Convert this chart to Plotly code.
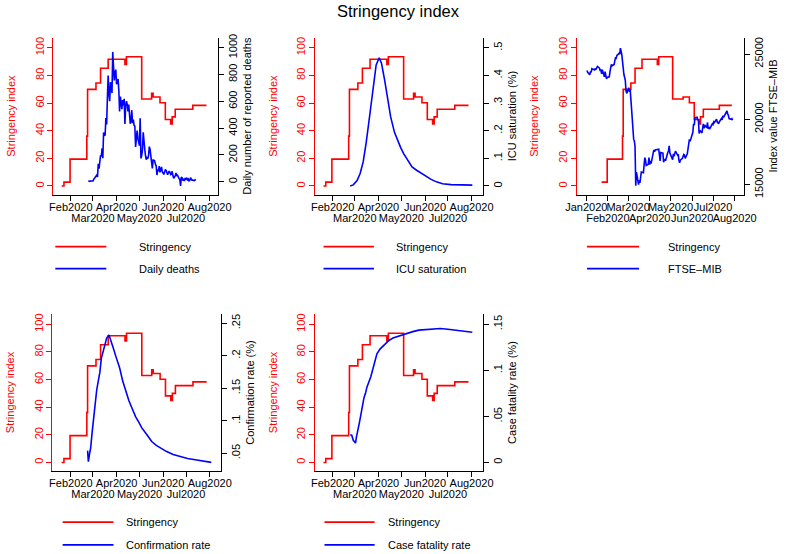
import pandas as pd
import plotly.graph_objects as go

W, H = 791, 554
FONT = "Liberation Sans, Arial, Helvetica, sans-serif"
RED = "#ff0000"
BLUE = "#0000ff"

# ---------------- data ----------------
# Stringency index (change points, step series)
str_dates = ["2020-01-20", "2020-01-23", "2020-01-31", "2020-02-22", "2020-02-23",
             "2020-03-05", "2020-03-11", "2020-03-21", "2020-04-12", "2020-04-14",
             "2020-05-04", "2020-05-17", "2020-05-19", "2020-05-28", "2020-06-04",
             "2020-06-11", "2020-06-13", "2020-06-17", "2020-07-10", "2020-07-28"]
str_vals = [0, 2.78, 19.44, 36.11, 69.91,
            74.54, 85.19, 91.67, 87.96, 93.52,
            62.96, 67.13, 64.35, 60.19, 48.15,
            44.91, 50.0, 55.56, 58.33, 58.33]
# points absent from the FTSE-MIB panel (non-trading days)
ftse_missing_str = ["2020-01-20", "2020-05-17"]

# Daily number of reported deaths, daily from 24 Feb 2020
deaths_start = "2020-02-24"
deaths = [7, 3, 2, 5, 4, 8,
          5, 18, 27, 28, 41, 49, 36, 133, 97, 168, 196, 189, 250, 175, 368, 349,
          345, 475, 427, 627, 793, 651, 601, 743, 683, 662, 969, 889, 756, 812, 837,
          727, 760, 766, 681, 525, 636, 604, 542, 610, 570, 619, 431, 566, 602, 578,
          525, 575, 482, 433, 454, 534, 437, 464, 420, 415, 260, 333, 382, 323, 285,
          269, 474, 174, 195, 236, 369, 274, 243, 194, 165, 179, 172, 195, 262, 242,
          153, 145, 99, 162, 161, 156, 130, 119, 50, 92, 78, 117, 70, 87, 111, 75,
          60, 55, 71, 88, 85, 72, 53, 65, 79, 71, 53, 56, 78, 44, 26, 34, 43, 66,
          47, 49, 24, 23, 18, -31, 34, 30, 8, 22, 6, 23,
          21, 30, 15, 21, 7, 8, 30, 15, 12, 12, 7, 9, 13, 17]

# ICU saturation (%)
icu_dates = ["2020-02-24", "2020-02-28", "2020-03-04", "2020-03-08", "2020-03-12",
             "2020-03-16", "2020-03-21", "2020-03-25", "2020-03-29", "2020-04-02",
             "2020-04-05", "2020-04-09", "2020-04-13", "2020-04-17", "2020-04-22",
             "2020-04-26", "2020-04-30", "2020-05-04", "2020-05-08", "2020-05-15",
             "2020-05-21", "2020-05-28", "2020-06-03", "2020-06-09", "2020-06-16",
             "2020-06-24", "2020-07-05", "2020-07-17", "2020-08-02"]
icu_vals = [0.0, 0.004, 0.02, 0.045, 0.087,
            0.158, 0.265, 0.362, 0.438, 0.464,
            0.444, 0.385, 0.313, 0.25, 0.194,
            0.165, 0.14, 0.117, 0.1, 0.069,
            0.057, 0.045, 0.033, 0.024, 0.015,
            0.008, 0.005, 0.004, 0.003]

# FTSE-MIB index value
ftse_dates = ["2020-01-02", "2020-01-03", "2020-01-06", "2020-01-07", "2020-01-08", "2020-01-09",
              "2020-01-10", "2020-01-13", "2020-01-14", "2020-01-15", "2020-01-16", "2020-01-17",
              "2020-01-20", "2020-01-21", "2020-01-22", "2020-01-23", "2020-01-24", "2020-01-27",
              "2020-01-28", "2020-01-29", "2020-01-30", "2020-01-31", "2020-02-03", "2020-02-04",
              "2020-02-05", "2020-02-06", "2020-02-07", "2020-02-10", "2020-02-11", "2020-02-12",
              "2020-02-13", "2020-02-14", "2020-02-17", "2020-02-18", "2020-02-19", "2020-02-20",
              "2020-02-21", "2020-02-24", "2020-02-25", "2020-02-26", "2020-02-27", "2020-02-28",
              "2020-03-02", "2020-03-03", "2020-03-04", "2020-03-05", "2020-03-06", "2020-03-09",
              "2020-03-10", "2020-03-11", "2020-03-12", "2020-03-13", "2020-03-16", "2020-03-17",
              "2020-03-18", "2020-03-19", "2020-03-20", "2020-03-23", "2020-03-24", "2020-03-25",
              "2020-03-26", "2020-03-27", "2020-03-30", "2020-03-31", "2020-04-01", "2020-04-02",
              "2020-04-03", "2020-04-06", "2020-04-07", "2020-04-08", "2020-04-09", "2020-04-14",
              "2020-04-15", "2020-04-16", "2020-04-17", "2020-04-20", "2020-04-21", "2020-04-22",
              "2020-04-23", "2020-04-24", "2020-04-27", "2020-04-28", "2020-04-29", "2020-04-30",
              "2020-05-04", "2020-05-05", "2020-05-06", "2020-05-07", "2020-05-08", "2020-05-11",
              "2020-05-12", "2020-05-13", "2020-05-14", "2020-05-15", "2020-05-18", "2020-05-19",
              "2020-05-20", "2020-05-21", "2020-05-22", "2020-05-25", "2020-05-26", "2020-05-27",
              "2020-05-28", "2020-05-29", "2020-06-01", "2020-06-02", "2020-06-03", "2020-06-04",
              "2020-06-05", "2020-06-08", "2020-06-09", "2020-06-10", "2020-06-11", "2020-06-12",
              "2020-06-15", "2020-06-16", "2020-06-17", "2020-06-18", "2020-06-19", "2020-06-22",
              "2020-06-23", "2020-06-24", "2020-06-25", "2020-06-26", "2020-06-29", "2020-06-30",
              "2020-07-01", "2020-07-02", "2020-07-03", "2020-07-06", "2020-07-07", "2020-07-08",
              "2020-07-09", "2020-07-10", "2020-07-13", "2020-07-14", "2020-07-15", "2020-07-16",
              "2020-07-17", "2020-07-20", "2020-07-21", "2020-07-22", "2020-07-23", "2020-07-24",
              "2020-07-27", "2020-07-28", "2020-07-29"]
ftse_vals = [23740, 23600, 23410, 23650, 23600, 23880,
             23850, 23780, 23900, 23820, 23950, 24050,
             23920, 23700, 23820, 23480, 23800, 23250,
             23650, 23450, 23100, 23200, 23250, 23650,
             24000, 24200, 24100, 24200, 24500, 24750,
             24700, 24900, 25050, 25000, 25450, 25150,
             24950, 23430, 23200, 23000, 22200, 21980,
             22420, 22100, 22300, 21750, 20800, 18470,
             18330, 17900, 14890, 15950, 14980, 15300,
             15120, 15550, 15950, 15900, 16800, 17050,
             16900, 16450, 16550, 17050, 16520, 16800,
             16600, 17300, 17650, 17500, 17650, 17700,
             16950, 16800, 17450, 17400, 16700, 16900,
             16850, 16850, 17450, 17550, 17950, 17400,
             16900, 17350, 17150, 17350, 17550, 17250,
             17300, 16850, 16650, 16850, 17000, 17150,
             17300, 17250, 17000, 17350, 17650, 18000,
             18450, 18300, 18800, 19000, 19650, 19550,
             20100, 20150, 19950, 19900, 18900, 19150,
             18950, 19500, 19650, 19300, 19550, 19350,
             19750, 19250, 19400, 19250, 19500, 19650,
             19600, 19800, 19750, 20000, 19800, 19700,
             19650, 19800, 20050, 19950, 20250, 20150,
             20250, 20450, 20630, 20400, 20300, 20050,
             20000, 20050, 19920]

# Confirmation rate (%)
conf_dates = ["2020-02-23", "2020-02-24", "2020-02-26", "2020-02-27", "2020-02-29",
              "2020-03-03", "2020-03-06", "2020-03-09", "2020-03-10", "2020-03-12",
              "2020-03-16", "2020-03-19", "2020-03-22", "2020-03-23", "2020-03-27",
              "2020-03-31", "2020-04-05", "2020-04-09", "2020-04-13", "2020-04-17",
              "2020-04-22", "2020-04-26", "2020-04-30", "2020-05-04", "2020-05-11",
              "2020-05-17", "2020-05-23", "2020-05-30", "2020-06-05", "2020-06-14",
              "2020-06-22", "2020-07-03", "2020-07-13", "2020-07-24", "2020-08-03"]
conf_vals = [0.054, 0.037, 0.052, 0.058, 0.083,
             0.118, 0.148, 0.168, 0.174, 0.196,
             0.214, 0.227, 0.232, 0.229, 0.214,
             0.199, 0.181, 0.161, 0.146, 0.131,
             0.117, 0.106, 0.098, 0.089, 0.078,
             0.068, 0.062, 0.057, 0.053, 0.048,
             0.045, 0.042, 0.040, 0.038, 0.036]

# Case fatality rate (%)
cfr_dates = ["2020-02-24", "2020-02-26", "2020-02-28", "2020-03-02", "2020-03-03",
             "2020-03-05", "2020-03-07", "2020-03-09", "2020-03-11", "2020-03-13",
             "2020-03-15", "2020-03-17", "2020-03-22", "2020-03-26", "2020-03-30",
             "2020-04-03", "2020-04-08", "2020-04-14", "2020-04-20", "2020-04-29",
             "2020-05-07", "2020-05-16", "2020-05-24", "2020-06-02", "2020-06-10",
             "2020-06-21", "2020-07-01", "2020-07-14", "2020-07-27", "2020-08-02"]
cfr_vals = [0.030, 0.0296, 0.024, 0.021, 0.027,
            0.0375, 0.043, 0.052, 0.064, 0.070,
            0.075, 0.082, 0.093, 0.107, 0.118,
            0.123, 0.127, 0.132, 0.135, 0.1375,
            0.140, 0.142, 0.1436, 0.1443, 0.1446,
            0.1454, 0.1446, 0.1436, 0.1425, 0.1414]

months_a = ["2020-02-01", "2020-03-01", "2020-04-01", "2020-05-01",
            "2020-06-01", "2020-07-01", "2020-08-01"]
months_b = ["2020-01-01"] + months_a


def mlabel(d):
    return pd.Timestamp(d).strftime("%b%Y")


# ---------------- layout geometry (pixels) ----------------
def px_x(v):
    return v / W


def px_y(v):
    return 1 - v / H


BASE = pd.Timestamp("2020-01-01")


def day(d):
    return (BASE + pd.Timedelta(days=d)).strftime("%Y-%m-%d %H:%M")


deaths_dates = pd.date_range(deaths_start, periods=len(deaths)).strftime("%Y-%m-%d").tolist()
str3 = [(d, v) for d, v in zip(str_dates, str_vals) if d not in ftse_missing_str]

panels = [
    dict(x=(43.3, 213.3), row=0, xr=(7.6, 223.9), months=months_a,
         s_x=str_dates, s_y=str_vals, b_x=deaths_dates, b_y=deaths,
         r_range=(-95.8, 1075.9), r_ticks=[0, 200, 400, 600, 800, 1000],
         r_text=["0", "200", "400", "600", "800", "1000"],
         r_title="Daily number of reported deaths", leg="Daily deaths",
         leg_x=(45.7, 98.3, 130)),
    dict(x=(313.3, 486.7), row=0, xr=(7.6, 227.9), months=months_a,
         s_x=str_dates, s_y=str_vals, b_x=icu_dates, b_y=icu_vals,
         r_range=(-0.031, 0.537), r_ticks=[0, 0.1, 0.2, 0.3, 0.4, 0.5],
         r_text=["0", ".1", ".2", ".3", ".4", ".5"],
         r_title="ICU saturation (%)", leg="ICU saturation",
         leg_x=(322.3, 374.3, 395)),
    dict(x=(583.3, 756), row=0, xr=(-13.9, 226.5), months=months_b,
         s_x=[d for d, v in str3], s_y=[v for d, v in str3], b_x=ftse_dates, b_y=ftse_vals,
         r_range=(14220, 26265), r_ticks=[15000, 20000, 25000],
         r_text=["15000", "20000", "25000"],
         r_title="Index value FTSE\u2013MIB", leg="FTSE\u2013MIB",
         leg_x=(594, 647.7, 675.7)),
    dict(x=(42.7, 216.7), row=1, xr=(6.9, 227.9), months=months_a,
         s_x=str_dates, s_y=str_vals, b_x=conf_dates, b_y=conf_vals,
         r_range=(0.0227, 0.2641), r_ticks=[0.05, 0.1, 0.15, 0.2, 0.25],
         r_text=[".05", ".1", ".15", ".2", ".25"],
         r_title="Confirmation rate (%)", leg="Confirmation rate",
         leg_x=(53.3, 105.7, 116.7)),
    dict(x=(313.3, 486.7), row=1, xr=(7.6, 227.9), months=months_a,
         s_x=str_dates, s_y=str_vals, b_x=cfr_dates, b_y=cfr_vals,
         r_range=(-0.0093, 0.1611), r_ticks=[0, 0.05, 0.1, 0.15],
         r_text=["0", ".05", ".1", ".15"],
         r_title="Case fatality rate (%)", leg="Case fatality rate",
         leg_x=(323.3, 375, 386.7)),
]

rows = [dict(top=34, bottom=193, leg_y=(245.7, 268.0)),
        dict(top=314, bottom=473, leg_y=(524.8, 547.8))]

fig = go.Figure()
layout = {}
shapes = []
annotations = []
tickfont = dict(family=FONT, size=11, color="black")


def nm(prefix, n):
    return prefix if n == 1 else f"{prefix}{n}"


for k, p in enumerate(panels, start=1):
    r = rows[p["row"]]
    xdom = [px_x(p["x"][0]), px_x(p["x"][1])]
    ydom = [px_y(r["bottom"]), px_y(r["top"])]
    xa, xb = nm("x", k), nm("x", k + 5)
    yl, yr = nm("y", 2 * k - 1), nm("y", 2 * k)
    xrange = [day(p["xr"][0]), day(p["xr"][1])]
    months = p["months"]
    row1 = months[0::2]
    row2 = months[1::2]

    layout[nm("xaxis", k)] = dict(
        domain=xdom, range=xrange, anchor=yl, type="date",
        showline=True, linecolor="black", linewidth=1, mirror=False,
        showgrid=False, zeroline=False,
        ticks="outside", ticklen=5, tickwidth=1, tickcolor="black",
        tickvals=months, ticktext=[mlabel(m) if m in row1 else "" for m in months],
        tickfont=tickfont, tickangle=0, ticklabelstandoff=-3,
    )
    layout[nm("xaxis", k + 5)] = dict(
        domain=xdom, range=xrange, anchor=yl, overlaying=xa, side="bottom", type="date",
        showline=False, showgrid=False, zeroline=False, ticks="",
        tickvals=row2, ticktext=[mlabel(m) for m in row2],
        tickfont=tickfont, tickangle=0, ticklabelstandoff=15,
    )
    layout[nm("yaxis", 2 * k - 1)] = dict(
        domain=ydom, range=[-6.2, 107.4], anchor=xa, side="left",
        showline=True, linecolor=RED, linewidth=1, showgrid=False, zeroline=False,
        ticks="outside", ticklen=5, tickwidth=1, tickcolor=RED,
        tickvals=[0, 20, 40, 60, 80, 100], tickangle=-90,
        tickfont=dict(family=FONT, size=11, color=RED), ticklabelstandoff=-1,
        title=dict(text="Stringency index", font=dict(family=FONT, size=11, color=RED), standoff=15.5),
    )
    layout[nm("yaxis", 2 * k)] = dict(
        domain=ydom, range=list(p["r_range"]), anchor=xa, overlaying=yl, side="right",
        showline=True, linecolor="black", linewidth=1, showgrid=False, zeroline=False,
        ticks="outside", ticklen=5, tickwidth=1, tickcolor="black",
        tickvals=p["r_ticks"], ticktext=p["r_text"], tickangle=-90,
        tickfont=tickfont, ticklabelstandoff=0,
        title=dict(text=p["r_title"], font=dict(family=FONT, size=11, color="black"), standoff=4.5),
    )

    fig.add_trace(go.Scatter(x=p["s_x"], y=p["s_y"], mode="lines", line=dict(color=RED, width=1.6, shape="hv"),
                             xaxis=xa, yaxis=yl, showlegend=False, hoverinfo="skip"))
    fig.add_trace(go.Scatter(x=p["b_x"], y=p["b_y"], mode="lines", line=dict(color=BLUE, width=1.6),
                             xaxis=xa, yaxis=yr, showlegend=False, hoverinfo="skip"))
    fig.add_trace(go.Scatter(x=[], y=[], mode="lines", xaxis=xb, yaxis=yl, showlegend=False, hoverinfo="skip"))

    # legend below each panel
    lx0, lx1, tx = p["leg_x"]
    for yy, col, lab in [(r["leg_y"][0], RED, "Stringency"), (r["leg_y"][1], BLUE, p["leg"])]:
        shapes.append(dict(type="line", xref="paper", yref="paper",
                           x0=px_x(lx0), x1=px_x(lx1), y0=px_y(yy), y1=px_y(yy),
                           line=dict(color=col, width=1.6)))
        annotations.append(dict(text=lab, xref="paper", yref="paper", x=px_x(tx), y=px_y(yy),
                                xanchor="left", yanchor="middle", showarrow=False,
                                font=dict(family=FONT, size=11, color="black")))

annotations.append(dict(text="Stringency index", xref="paper", yref="paper", x=px_x(399.5), y=px_y(7),
                        xanchor="center", yanchor="middle", showarrow=False,
                        font=dict(family=FONT, size=16.5, color="black")))

fig.update_layout(**layout)
fig.update_layout(width=W, height=H, margin=dict(l=0, r=0, t=0, b=0),
                  paper_bgcolor="white", plot_bgcolor="white",
                  shapes=shapes, annotations=annotations, showlegend=False,
                  font=dict(family=FONT, size=11))
fig.write_html("out.html", config={"displayModeBar": False},
               post_script="document.body.style.margin='0px';")
